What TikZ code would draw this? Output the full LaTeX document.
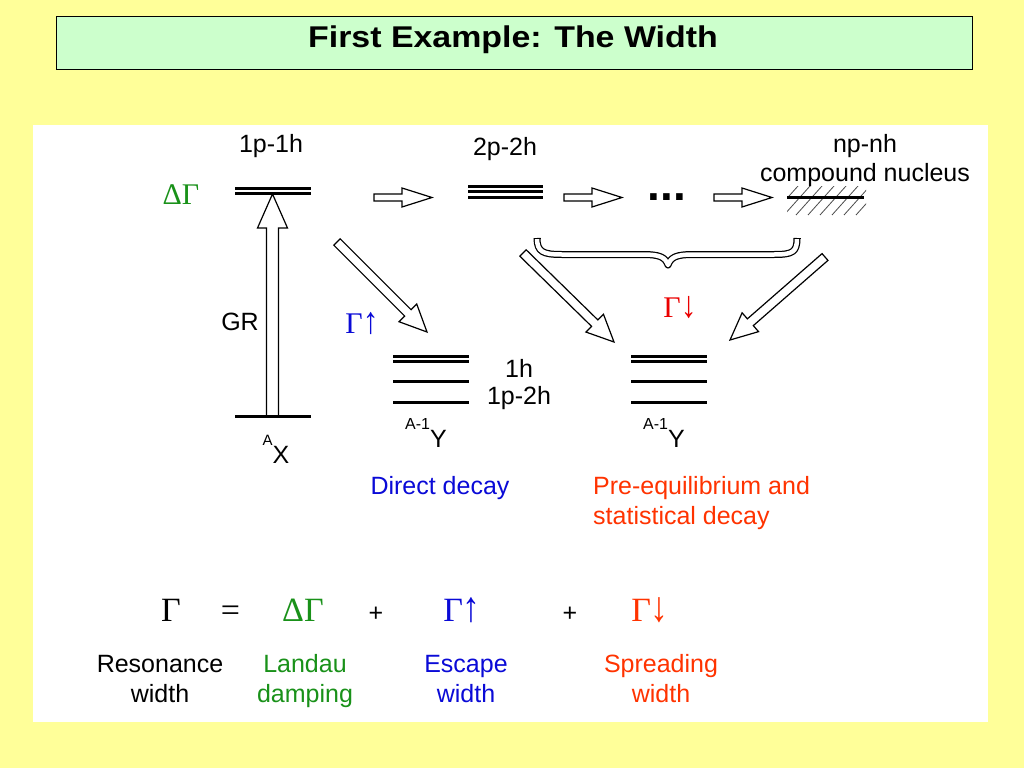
\documentclass[tikz,border=0pt]{standalone}
\usepackage{fontspec}
\usepackage{graphicx}
\setmainfont{Liberation Sans}
\newfontfamily\serifsym{Liberation Serif}
\usetikzlibrary{
    calc,
    positioning,
}

\definecolor{slidebg}{RGB}{255,255,153}
\definecolor{titlebg}{RGB}{204,255,204}
\definecolor{landau}{RGB}{25,145,25}
\definecolor{escape}{RGB}{10,10,215}
\definecolor{spread}{RGB}{255,51,0}
\definecolor{downred}{RGB}{235,0,0}

\newcommand\hollowarrow[5]{%
  \coordinate (ha-m) at ($(#2)!#5!(#1)$);
  \draw[hollow] ($(#1)!#3!90:(#2)$) -- ($(ha-m)!#3!90:(#2)$)
    -- ($(ha-m)!#4!90:(#2)$) -- (#2) -- ($(ha-m)!#4!-90:(#2)$)
    -- ($(ha-m)!#3!-90:(#2)$) -- ($(#1)!#3!-90:(#2)$) -- cycle;
}
\newcommand\tallarrow[1]{\scalebox{1.05}[1.25]{#1}}

\begin{document}
\begin{tikzpicture}[x=1pt, y=-1pt,
    lbl/.style={font=\fontsize{25}{30}\selectfont, inner sep=0pt, anchor=base, align=center},
    sym/.style={font=\serifsym\fontsize{30}{36}\selectfont, inner sep=0pt, anchor=base},
    bigsym/.style={font=\serifsym\fontsize{34}{40}\selectfont, inner sep=0pt, anchor=base},
    lvline/.style={line width=3pt},
    hollow/.style={fill=white, draw=black, line width=1.2pt, line join=miter},
    ]

\useasboundingbox (0,0) rectangle (1024,768);
\fill[slidebg] (0,0) rectangle (1024,768);

\node[draw, fill=titlebg, line width=1pt, minimum width=916pt, minimum height=52pt, inner sep=0pt] (title) at (514,43) {};
\node[anchor=base, inner sep=0pt, font=\bfseries\fontsize{30}{36}\selectfont] (titletext) at (513,48)
    {\scalebox{1.13}[1]{First Example: The Width}};

\fill[white] (33,125) rectangle (988,722);

% arrows
\coordinate (X) at (272.5,416);
\coordinate (ph) at (272.5,194);
\hollowarrow{X}{ph}{6pt}{15pt}{34pt}

\coordinate (h1a) at (374,197.5);
\coordinate (h1b) at (432,197.5);
\coordinate (h2a) at (564,197.5);
\coordinate (h2b) at (622,197.5);
\coordinate (h3a) at (714,197.5);
\coordinate (h3b) at (772,197.5);
\hollowarrow{h1a}{h1b}{3.5pt}{9.5pt}{30pt}
\hollowarrow{h2a}{h2b}{3.5pt}{9.5pt}{30pt}
\hollowarrow{h3a}{h3b}{3.5pt}{9.5pt}{30pt}

\coordinate (d1a) at (337,242);
\coordinate (d1b) at (427,332);
\coordinate (s1a) at (523,253);
\coordinate (s1b) at (614,342);
\coordinate (s2a) at (825,257);
\coordinate (s2b) at (730,340);
\hollowarrow{d1a}{d1b}{4.5pt}{12.5pt}{27pt}
\hollowarrow{s1a}{s1b}{4.5pt}{12.5pt}{27pt}
\hollowarrow{s2a}{s2b}{4.5pt}{12.5pt}{27pt}

% levels
\draw[lvline] (235,188) -- (311,188);
\draw[lvline] (235,193) -- (311,193);
\draw[lvline] (235,416) -- (311,416);
\foreach \y in {186,191.5,197}
    \draw[lvline] (468,\y) -- (543,\y);
\foreach \x in {393,631}
    \foreach \y in {356.5,361.5,381,402.5}
        \draw[lvline] (\x,\y) -- ++(76,0);

\begin{scope}
    \clip (787,186) rectangle (866,215);
    \foreach \x in {760,772,...,880}
        \draw[line width=0.8pt, black!70] (\x,215) -- ++(26,-29);
\end{scope}
\draw[lvline] (787,197) -- (864,197);

\node[anchor=base, inner sep=0pt, font=\bfseries\fontsize{46}{46}\selectfont] (dots) at (667,200) {...};

% brace
\draw[double=white, double distance=4.5pt, line width=1.25pt, line join=round]
    (537,238) .. controls (537,252) and (543,254.5) .. (562,254.5) -- (642,254.5)
    .. controls (660,254.5) and (665,257) .. (668,265)
    .. controls (671,257) and (676,254.5) .. (694,254.5) -- (774,254.5)
    .. controls (793,254.5) and (797,252) .. (797,238);
\draw[line width=1.25pt] (533.5,238.6) -- (540.5,238.6);
\draw[line width=1.25pt] (793.5,238.6) -- (800.5,238.6);

% labels
\node[lbl] (ph1h) at (271,152) {1p-1h};
\node[lbl] (ph2h) at (505,155) {2p-2h};
\node[lbl, font=\fontsize{25}{29}\selectfont] (phnh) at (865,181) {np-nh\\compound nucleus};
\node[sym, landau] (dgam) at (181,204) {ΔΓ};
\node[lbl] (gr) at (240,330) {GR};
\node[sym, escape] (gup) at (362,333) {Γ\tallarrow{↑}};
\node[sym, downred] (gdown) at (680,317) {Γ\tallarrow{↓}};
\node[lbl, font=\fontsize{25}{27}\selectfont] (holes) at (519,404) {1h\\1p-2h};
\node[lbl] (ax) at (276,463) {\raisebox{18pt}{\fontsize{15}{15}\selectfont A}X};
\node[lbl] (y1) at (426,447) {\raisebox{18pt}{\fontsize{16}{16}\selectfont A-1}Y};
\node[lbl] (y2) at (664,447) {\raisebox{18pt}{\fontsize{16}{16}\selectfont A-1}Y};
\node[lbl, escape] (direct) at (440,494) {Direct decay};
\node[lbl, spread, align=left, anchor=base west] (preeq) at (593,524)
    {Pre-equilibrium and\\statistical decay};

% sum rule
\node[bigsym] (gtot) at (171,621) {Γ};
\node[bigsym] (eq) at (230.5,621) {=};
\node[bigsym, landau] (gland) at (303,621) {ΔΓ};
\node[lbl] (plus1) at (376,621) {+};
\node[bigsym, escape] (gesc) at (462,621) {Γ\tallarrow{↑}};
\node[lbl] (plus2) at (570,621) {+};
\node[bigsym, spread] (gspr) at (650,621) {Γ\tallarrow{↓}};

\node[lbl] (resw) at (160,702) {Resonance\\width};
\node[lbl, landau] (landw) at (305,702) {Landau\\damping};
\node[lbl, escape] (escw) at (466,702) {Escape\\width};
\node[lbl, spread] (sprw) at (661,702) {Spreading\\width};

\end{tikzpicture}
\end{document}
